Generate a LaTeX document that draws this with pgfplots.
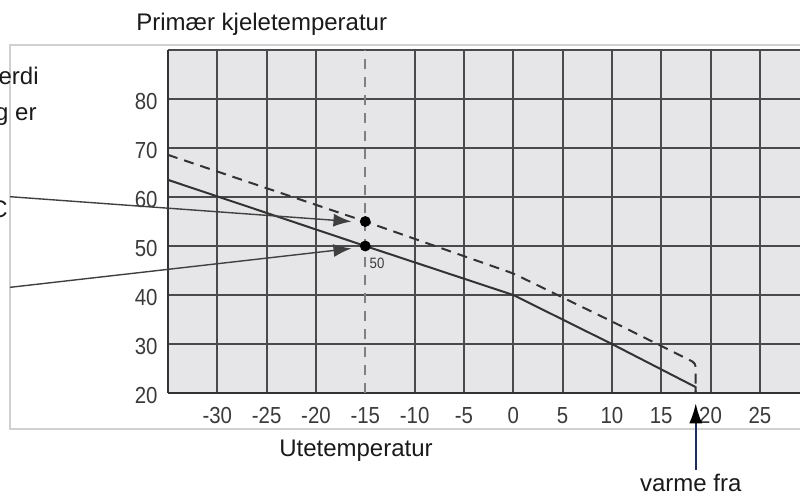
\documentclass[border=0pt]{standalone}
\usepackage{fontspec}
\setmainfont{Liberation Sans}
\newfontfamily\tickfont[FakeStretch=0.88]{Liberation Sans}
\usepackage{pgfplots}
\pgfplotsset{compat=1.18}
\usetikzlibrary{arrows.meta}
\definecolor{bg}{HTML}{E6E6E8}
\definecolor{gridc}{HTML}{4A4A4A}
\definecolor{linec}{HTML}{333333}
\definecolor{boxc}{HTML}{D0D0D0}
\definecolor{navyc}{HTML}{1F2D5C}
\definecolor{txt}{HTML}{1A1A1A}
\definecolor{tickc}{HTML}{3A3A3A}
\definecolor{vdash}{HTML}{808080}
\begin{document}
\begin{tikzpicture}[x=1pt,y=1pt]
\useasboundingbox (0,0) rectangle (400,247.5);
\clip (0,0) rectangle (400,247.5);
\draw[boxc, line width=1pt] (5,33.25) rectangle (410,225.25);
\begin{axis}[
  at={(84pt,51pt)}, anchor=south west,
  scale only axis, width=316.4pt, height=171.5pt,
  xmin=-35, xmax=29.15, ymin=20, ymax=90,
  axis background/.style={fill=bg},
  axis x line*=bottom, axis y line*=left,
  axis line style={-, draw=linec, line width=1.4pt},
  xtick={-30,-25,-20,-10,-5,0,5,10,15,20,25},
  xticklabels={-30,-25,-20,-10,-5,0,5,10,15,20,25},
  extra x ticks={-15}, extra x tick labels={-15},
  extra x tick style={grid=none},
  ytick={20,30,40,50,60,70,80,90},
  yticklabels={20,30,40,50,60,70,80,{}},
  grid=major, major grid style={draw=gridc, line width=1pt},
  major tick length=0pt,
  tick label style={font=\tickfont\fontsize{11.6}{12}\selectfont, text=tickc, inner sep=0pt},
  /pgf/number format/assume math mode=true,
  xticklabel style={anchor=north, yshift=-6.85pt},
  yticklabel style={anchor=east, xshift=-5pt, yshift=-1.5pt},
  clip=false,
]
\addplot[vdash, line width=1pt, dash pattern=on 5pt off 4pt] coordinates {(-15,20) (-15,90)};
\addplot[linec, line width=1pt] coordinates {(-35,63.5) (-15,50) (0,40) (10,30) (18.5,21.2) (18.5,20)};
\addplot[linec, line width=1pt, dash pattern=on 5pt off 3.5pt, rounded corners=2pt] coordinates {(-35,68.6) (-15,55) (0,44.4) (10,34.6) (15,29.6) (18.5,26.1) (18.5,20)};
\addplot[only marks, mark=*, mark size=2.5pt, black] coordinates {(-15,55) (-15,50)};
\draw[draw=black!75, line width=0.7pt, -{Latex[length=9pt,width=6.5pt]}] (axis cs:-51,60.06) -- (axis cs:-16.4,55);
\draw[draw=black!75, line width=0.7pt, -{Latex[length=9pt,width=6.5pt]}] (axis cs:-51,41.57) -- (axis cs:-16.4,49.5);
\draw[navyc, line width=1pt, -{Latex[length=10pt,width=6.5pt,black]}] (axis cs:18.5,4.3) -- (axis cs:18.5,17.9);
\node[anchor=north west, font=\tickfont\fontsize{7.5}{8}\selectfont, text=tickc, inner sep=0pt, xshift=2pt, yshift=-6pt] at (axis cs:-15,50) {50};
\end{axis}
\begin{scope}[every node/.style={inner sep=0pt, font=\fontsize{12}{14}\selectfont, text=txt}]
\node[anchor=base west] at (68,232.15) {Primær kjeletemperatur};
\node[anchor=base] at (178,19.15) {Utetemperatur};
\node[anchor=base] at (345.4,1.65) {varme fra};
\node[anchor=base east] at (19.5,205.5) {verdi};
\node[anchor=base east] at (18.5,187.5) {g er};
\node[anchor=base east] at (4,139) {°C};
\end{scope}
\end{tikzpicture}
\end{document}
